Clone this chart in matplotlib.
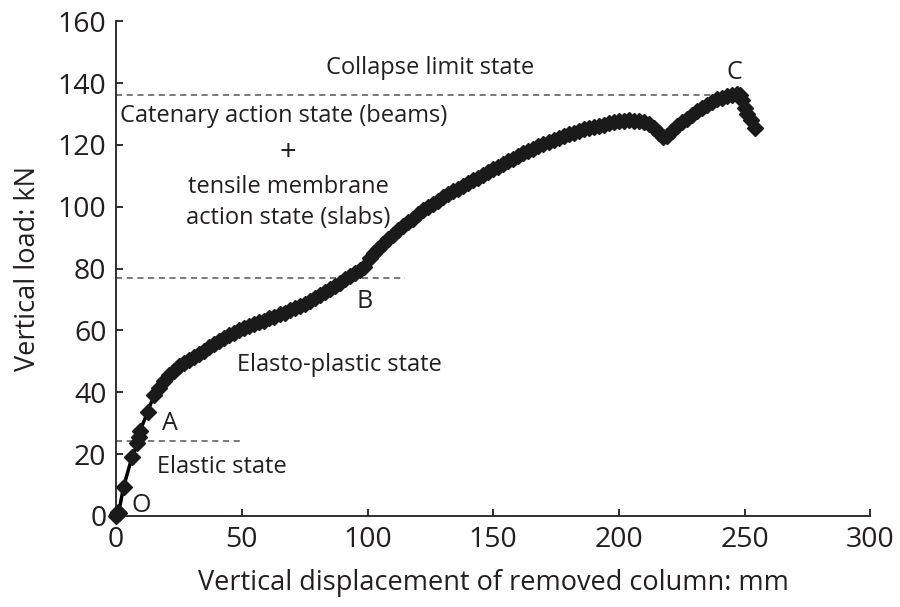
import matplotlib
matplotlib.use('Agg')
import matplotlib.pyplot as plt

plt.rcParams['font.family'] = ['Open Sans', 'DejaVu Sans']

# Load-displacement readings (mm, kN)
disp = [0, 0.3, 0.6, 1.0, 3.0, 6.3, 8.5, 9.0, 9.5, 12.5, 15, 17, 19, 21, 23, 25, 27, 29,
        31, 33, 35, 37, 39, 41, 43, 45, 47, 49, 51, 53, 55, 57, 59, 61, 63, 65, 67, 69,
        71, 73, 75, 77, 79, 81, 83, 85, 87, 89, 91, 93, 95, 97, 98.5, 101, 102.5, 104,
        106, 108, 110, 112, 114, 116, 118, 120, 122, 124, 126, 128, 130, 132, 134, 136,
        138, 140, 142, 144, 146, 148, 150, 152, 154, 156, 158, 160, 162, 164, 166, 168,
        170, 172, 174, 176, 178, 180, 182, 184, 186, 188, 190, 192, 194, 196, 198, 200,
        202, 204, 206, 208, 210, 212, 214, 216, 217.5, 219, 221, 223, 225, 227, 229, 231,
        233, 235, 237, 239, 241, 243, 245, 247, 248, 249, 250, 251, 252.5, 254]
load = [0, 0.6, 1.4, 1.0, 9.5, 19, 23.5, 25.5, 27.5, 33.5, 39, 41.5, 43.5, 45.5, 47, 48.5,
        49.5, 50.5, 51.5, 52.5, 53.5, 54.5, 55.5, 56.5, 57.5, 58.5, 59.2, 60, 60.7, 61.3,
        62, 62.6, 63.2, 64, 64.5, 65.2, 65.8, 66.5, 67.2, 67.8, 68.5, 69.5, 70.5, 71.5,
        72.5, 73.5, 74.5, 75.5, 76.5, 77.5, 78.5, 79.5, 80.5, 83.5, 85, 86.5, 88, 89.5,
        91, 92.5, 93.7, 95, 96.2, 97.5, 98.8, 100, 101, 102, 103, 104, 105, 105.8, 106.7,
        107.6, 108.5, 109.4, 110.3, 111.2, 112.2, 113, 113.8, 114.7, 115.6, 116.5, 117.3,
        118, 118.8, 119.5, 120.2, 120.9, 121.6, 122.2, 122.8, 123.4, 124, 124.5, 125,
        125.4, 125.8, 126.2, 126.6, 127, 127.3, 127.6, 127.8, 127.9, 127.8, 127.6, 127.3,
        126.8, 125.6, 123.8, 122.5, 123, 124.5, 126, 127.3, 128.5, 129.7, 131, 132, 133,
        134, 134.7, 135.3, 135.8, 136.2, 136.4, 136, 134.5, 132, 130, 128, 125.5]

# state boundaries: (load level, end of dashed line)
limit_levels = [24.2, 77, 136.2]
limit_ends = [50, 115, 245]

dark = '#231f20'

fig = plt.figure(figsize=(9, 6.07), dpi=100)
ax = fig.add_axes([0.129, 0.150, 0.838, 0.815])

for lev, end in zip(limit_levels, limit_ends):
    ax.plot([0, end], [lev, lev], color='#555555', lw=1.1, ls=(0, (4, 3)), zorder=1)

ax.plot(disp, load, '-', color='black', lw=2.5, marker='D', markersize=8,
        markerfacecolor='#1a1a1a', markeredgecolor='#1a1a1a', zorder=3, clip_on=False)

ax.set_xlim(0, 300)
ax.set_ylim(0, 160)
ax.set_xticks(range(0, 301, 50))
ax.set_yticks(range(0, 161, 20))
ax.spines['top'].set_visible(False)
ax.spines['right'].set_visible(False)
for s in ['left', 'bottom']:
    ax.spines[s].set_color(dark)
    ax.spines[s].set_linewidth(1.3)
ax.tick_params(direction='in', length=5, width=1.3, color=dark,
               labelsize=20.5, labelcolor=dark, pad=7)

ax.set_xlabel('Vertical displacement of removed column: mm', fontsize=19.5, color=dark, labelpad=11)
ax.set_ylabel('Vertical load: kN', fontsize=19.5, color=dark, labelpad=11)

tkw = dict(fontsize=17, color=dark)
ax.text(125, 145, 'Collapse limit state', ha='center', va='center', **tkw)
ax.text(246, 143.5, 'C', ha='center', va='center', fontsize=18, color=dark)
ax.text(1.5, 129.5, 'Catenary action state (beams)', ha='left', va='center', **tkw)
ax.text(68.5, 117.5, '+', ha='center', va='center', fontsize=21, color=dark)
ax.text(68.5, 106.5, 'tensile membrane', ha='center', va='center', **tkw)
ax.text(68.5, 96.5, 'action state (slabs)', ha='center', va='center', **tkw)
ax.text(99, 69.5, 'B', ha='center', va='center', fontsize=18, color=dark)
ax.text(89, 48.7, 'Elasto-plastic state', ha='center', va='center', **tkw)
ax.text(21.5, 30, 'A', ha='center', va='center', fontsize=18, color=dark)
ax.text(16.3, 15.8, 'Elastic state', ha='left', va='center', **tkw)
ax.text(10, 3.5, 'O', ha='center', va='center', fontsize=18, color=dark)

fig.savefig('out.png', dpi=100)
